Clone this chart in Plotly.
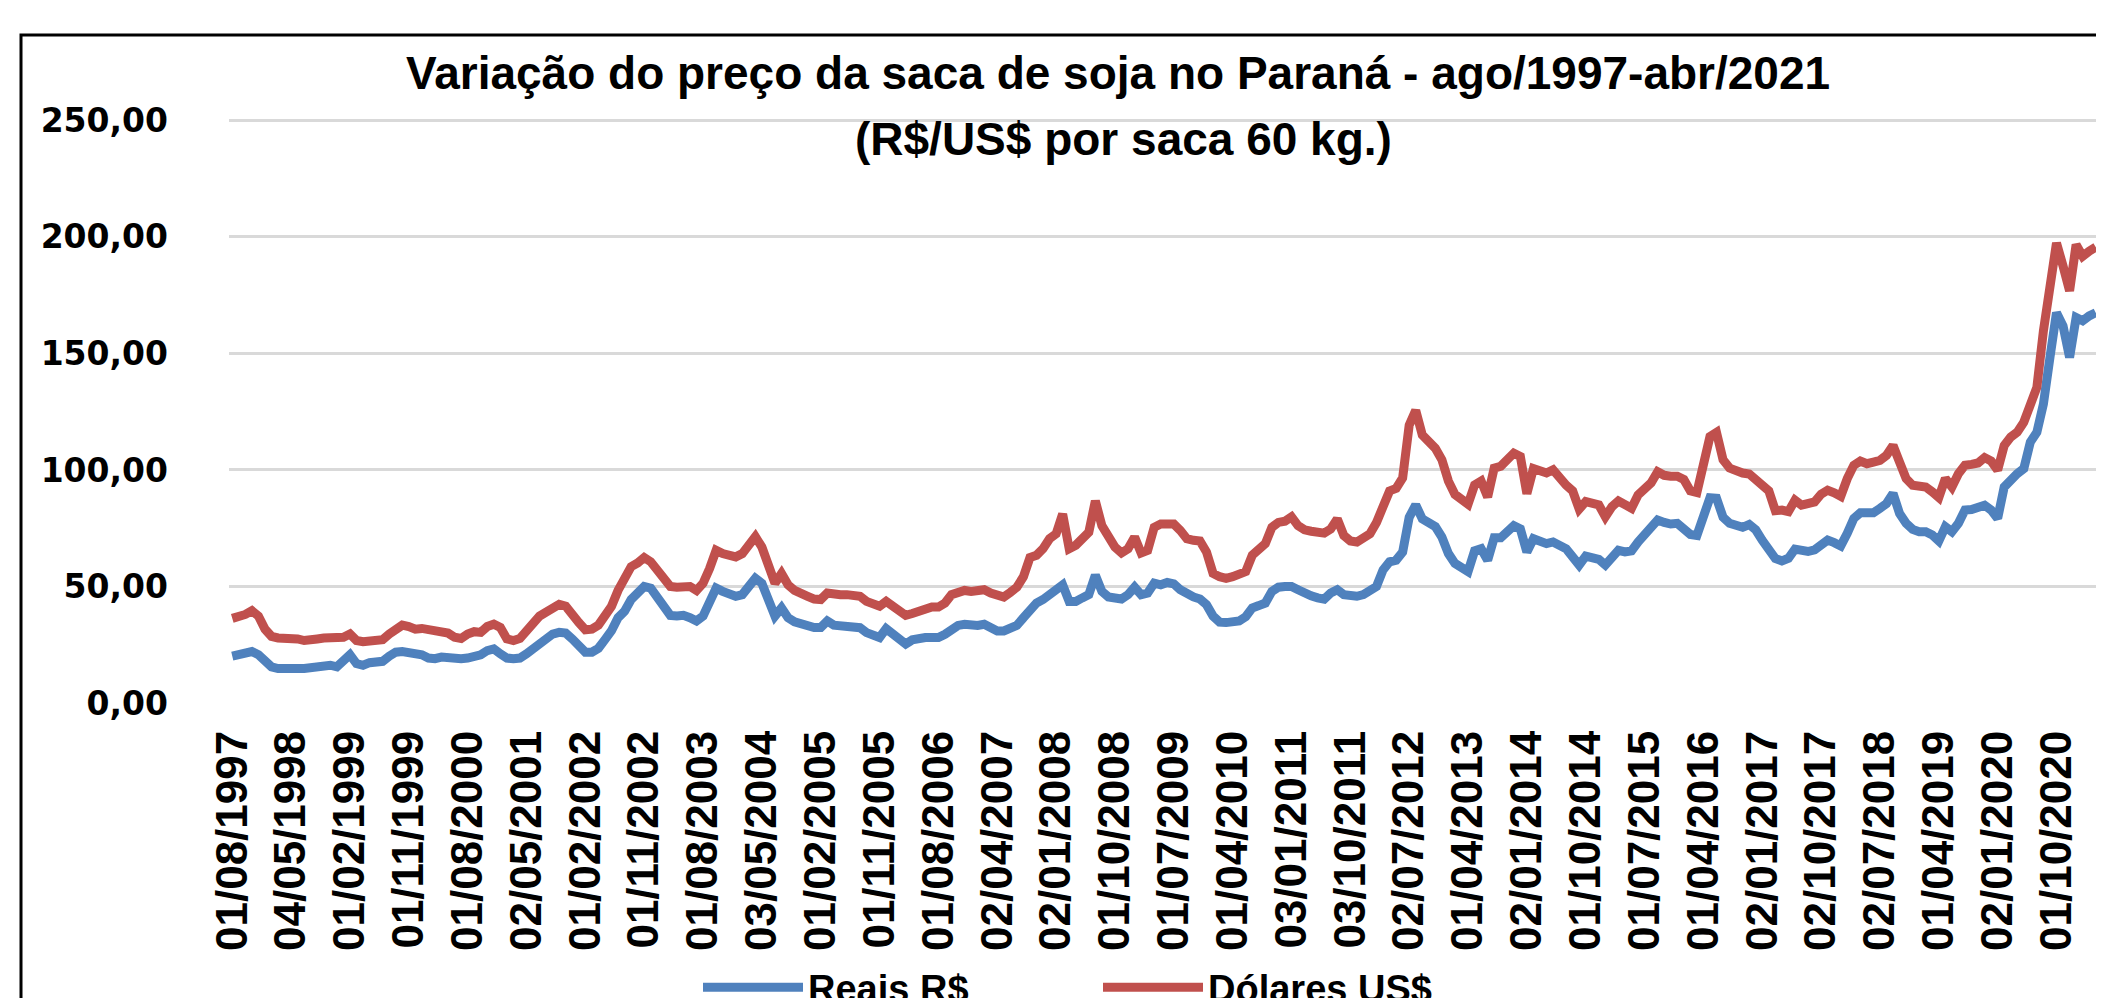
import plotly.graph_objects as go

# ---------------- data ----------------
TICK_LABELS = [
    "01/08/1997", "04/05/1998", "01/02/1999", "01/11/1999", "01/08/2000", "02/05/2001",
    "01/02/2002", "01/11/2002", "01/08/2003", "03/05/2004", "01/02/2005", "01/11/2005",
    "01/08/2006", "02/04/2007", "02/01/2008", "01/10/2008", "01/07/2009", "01/04/2010",
    "03/01/2011", "03/10/2011", "02/07/2012", "01/04/2013", "02/01/2014", "01/10/2014",
    "01/07/2015", "01/04/2016", "02/01/2017", "02/10/2017", "02/07/2018", "01/04/2019",
    "02/01/2020", "01/10/2020",
]

# Dólares US$ (red, upper line)
DOLARES = [
    36.3, 37.0, 38.0, 39.6, 37.3, 31.7, 28.6, 27.9, 27.9, 27.9,
    27.5, 26.8, 26.8, 27.5, 27.9, 27.9, 27.5, 28.2, 29.6, 26.8,
    26.3, 26.3, 26.3, 27.2, 29.6, 32.0, 33.4, 32.8, 31.7, 32.0,
    31.4, 30.3, 30.6, 30.0, 28.2, 27.7, 29.6, 30.6, 30.3, 32.8,
    33.8, 32.4, 27.5, 26.8, 27.7, 31.0, 33.8, 37.3, 39.0, 40.8,
    42.3, 41.5, 37.3, 34.5, 31.4, 31.7, 33.4, 37.3, 41.5, 48.3,
    52.8, 58.5, 60.1, 62.4, 60.6, 57.3, 54.2, 50.0, 49.7, 50.3,
    50.0, 48.3, 51.4, 57.7, 65.5, 64.1, 63.4, 62.7, 64.1, 68.6,
    71.4, 66.9, 59.2, 51.4, 55.6, 50.7, 48.3, 46.5, 45.8, 44.6,
    44.4, 47.2, 46.5, 46.5, 46.5, 46.5, 45.8, 43.6, 42.2, 41.5,
    43.6, 41.8, 39.4, 37.6, 38.4, 39.4, 40.8, 41.2, 41.2, 42.9,
    46.5, 47.9, 48.3, 47.9, 47.9, 48.6, 47.2, 46.0, 45.5, 47.5,
    49.7, 54.2, 62.4, 63.4, 66.2, 70.5, 72.6, 81.1, 66.2, 67.7,
    71.2, 73.3, 86.7, 76.1, 71.5, 66.9, 64.4, 66.2, 71.2, 64.4,
    65.5, 75.4, 76.8, 77.1, 76.8, 74.0, 70.5, 69.8, 69.5, 64.8,
    55.6, 54.2, 53.5, 54.2, 54.9, 56.4, 63.4, 66.2, 68.4, 75.4,
    77.5, 78.0, 79.9, 76.1, 74.3, 73.7, 73.3, 72.9, 74.7, 79.0,
    71.9, 69.5, 69.1, 70.5, 72.6, 77.5, 83.9, 91.0, 92.1, 96.6,
    119.2, 125.6, 115.0, 112.4, 109.3, 104.4, 95.2, 89.5, 87.0, 85.3,
    93.5, 95.2, 88.4, 100.8, 101.6, 105.1, 107.2, 105.8, 89.8, 100.6,
    99.2, 98.7, 100.1, 96.3, 93.5, 91.0, 83.2, 86.4, 86.0, 85.0,
    79.9, 84.2, 86.7, 84.6, 83.6, 89.3, 91.7, 94.5, 99.2, 97.7,
    97.3, 97.3, 95.9, 91.0, 90.3, 103.7, 114.3, 116.1, 104.4, 100.8,
    99.2, 98.7, 98.3, 95.9, 93.1, 91.0, 82.5, 82.8, 82.1, 87.0,
    84.9, 85.3, 86.3, 89.6, 91.3, 90.2, 88.7, 96.3, 102.0, 103.8,
    102.7, 103.4, 104.1, 106.3, 110.5, 103.4, 96.3, 93.4, 92.7, 92.7,
    90.6, 88.2, 96.3, 92.7, 98.4, 102.0, 102.4, 103.0, 105.3, 103.8,
    99.9, 110.5, 114.1, 116.2, 120.5, 128.3, 135.5, 159.7, 182.5, 197.4,
    187.5, 176.8, 196.7, 191.7, 193.9, 195.6,
]

# Reais R$ (blue, lower line)
REAIS = [
    20.1, 20.7, 21.1, 22.1, 20.7, 17.9, 15.5, 14.8, 15.1, 14.8,
    14.8, 14.8, 15.1, 16.2, 16.2, 16.2, 15.5, 17.6, 20.7, 16.9,
    16.2, 17.3, 17.6, 17.9, 20.1, 21.8, 22.1, 21.8, 21.1, 20.7,
    19.3, 19.0, 19.7, 19.3, 19.0, 19.0, 19.3, 19.7, 20.7, 22.5,
    23.2, 21.1, 19.3, 19.0, 19.3, 21.1, 23.2, 26.1, 28.6, 29.6,
    30.3, 30.0, 27.5, 24.6, 21.8, 21.8, 23.5, 27.2, 31.0, 36.6,
    39.4, 44.4, 47.9, 50.0, 49.3, 45.1, 41.5, 37.6, 37.3, 37.6,
    36.6, 35.2, 37.3, 43.7, 49.3, 47.9, 47.2, 45.8, 46.5, 50.0,
    53.5, 51.4, 44.4, 37.3, 40.8, 36.6, 34.8, 33.8, 33.1, 32.4,
    32.4, 35.2, 33.4, 33.1, 33.1, 33.1, 32.3, 30.2, 28.8, 28.1,
    31.9, 29.5, 27.1, 25.3, 27.1, 28.1, 28.1, 28.1, 28.1, 29.5,
    31.9, 33.3, 33.8, 33.3, 33.3, 33.8, 32.3, 30.9, 30.9, 31.9,
    33.3, 36.6, 40.4, 42.9, 44.4, 46.5, 48.3, 50.7, 43.6, 43.6,
    45.1, 46.5, 54.9, 47.9, 45.5, 45.1, 44.6, 46.5, 49.7, 46.5,
    47.2, 51.4, 50.7, 51.7, 51.1, 48.6, 46.5, 45.5, 44.6, 42.2,
    37.3, 34.7, 34.5, 34.7, 35.2, 37.0, 40.8, 41.8, 42.9, 47.9,
    49.7, 50.0, 50.0, 48.6, 46.9, 46.0, 45.1, 44.6, 47.2, 48.6,
    46.5, 45.8, 45.8, 46.5, 47.9, 50.0, 57.1, 60.6, 61.3, 64.8,
    79.7, 85.0, 79.0, 77.1, 75.7, 71.2, 64.1, 59.9, 58.2, 56.4,
    65.3, 66.2, 61.3, 70.9, 70.9, 74.0, 76.1, 74.7, 64.8, 70.5,
    69.1, 68.4, 69.1, 67.7, 66.2, 62.7, 59.2, 63.0, 62.4, 61.6,
    59.2, 62.7, 65.5, 64.8, 65.3, 69.1, 71.9, 75.4, 78.5, 77.5,
    76.8, 77.1, 74.7, 72.3, 71.9, 81.1, 88.1, 87.9, 79.7, 77.1,
    76.1, 75.4, 76.6, 74.3, 69.8, 66.2, 62.0, 61.0, 62.1, 66.0,
    65.0, 65.0, 65.7, 67.8, 69.9, 68.8, 67.4, 72.8, 79.2, 81.6,
    81.6, 81.6, 83.5, 85.6, 89.9, 81.3, 77.1, 74.5, 73.5, 73.5,
    72.1, 69.5, 75.6, 73.5, 77.1, 82.8, 83.0, 83.5, 84.9, 82.8,
    79.2, 92.7, 96.3, 98.4, 100.6, 112.0, 116.2, 128.3, 148.3, 167.5,
    161.8, 148.3, 165.4, 164.0, 166.1, 167.5,
]

# Category list: one entry per month ago/1997..abr/2021, plus an extra
# reading in dez/2006; labelled months use the exact labels above.
EXTRA_ENTRY = ("15/12/2006", 2006, 12)
categories = []
y, m = 1997, 8
while (y, m) <= (2021, 4):
    categories.append(f"01/{m:02d}/{y}")
    if (y, m) == (EXTRA_ENTRY[1], EXTRA_ENTRY[2]):
        categories.append(EXTRA_ENTRY[0])
    m += 1
    if m > 12:
        m, y = 1, y + 1
for k, lab in enumerate(TICK_LABELS):
    categories[k * 9] = lab

# ---------------- figure ----------------
W, H = 2104, 998
L, R, T, B = 221, 13, 111, 303
PW, PH = W - L - R, H - T - B
YMAX = 250.6  # a hair above 250 so the top gridline is drawn


def px_x(px):
    return (px - L) / PW


def px_y(py):
    return (H - B - py) / PH


BLUE = "#4F81BD"
RED = "#C0504D"

fig = go.Figure()
fig.add_trace(go.Scatter(x=categories, y=REAIS, mode="lines", name="Reais R$",
                         line=dict(color=BLUE, width=9)))
fig.add_trace(go.Scatter(x=categories, y=DOLARES, mode="lines", name="Dólares US$",
                         line=dict(color=RED, width=9)))

fig.update_layout(
    width=W, height=H,
    margin=dict(l=L, r=R, t=T, b=B, autoexpand=False),
    paper_bgcolor="white", plot_bgcolor="white",
    separators=",.",
    showlegend=True,
    legend=dict(orientation="h", x=px_x(690), y=px_y(948), xanchor="left", yanchor="top",
                font=dict(family="Liberation Sans", size=38, color="black", weight="bold"),
                itemwidth=100, entrywidth=285, entrywidthmode="pixels",
                bgcolor="rgba(0,0,0,0)", tracegroupgap=0),
    xaxis=dict(type="category", range=[-0.5, len(categories) - 0.5],
               tickmode="array", tickvals=TICK_LABELS, ticktext=TICK_LABELS,
               tickangle=-90, showgrid=False, zeroline=False, showline=False,
               ticks="", ticklabelstandoff=18,
               tickfont=dict(family="Liberation Sans", size=44, color="black", weight="bold")),
    yaxis=dict(range=[0, YMAX], dtick=50, tick0=0, tickformat=".2f",
               showgrid=True, gridcolor="#D9D9D9", gridwidth=3,
               zeroline=False, showline=False, ticks="", ticklabelstandoff=60,
               tickfont=dict(family="DejaVu Sans", size=33, color="black", weight="bold")),
    annotations=[
        dict(text="Variação do preço da saca de soja no Paraná - ago/1997-abr/2021",
             xref="paper", yref="paper", x=px_x(1110), y=px_y(65),
             xanchor="center", yanchor="middle", showarrow=False,
             font=dict(family="Liberation Sans", size=46, color="black", weight="bold")),
        dict(text="(R$/US$ por saca 60 kg.)",
             xref="paper", yref="paper", x=px_x(1115), y=px_y(131),
             xanchor="center", yanchor="middle", showarrow=False,
             font=dict(family="Liberation Sans", size=46, color="black", weight="bold")),
    ],
    shapes=[
        dict(type="rect", xref="paper", yref="paper",
             x0=px_x(13), y0=px_y(1200), x1=px_x(2300), y1=px_y(27),
             line=dict(color="black", width=3), fillcolor="rgba(0,0,0,0)", layer="below"),
    ],
)

fig.write_html("out.html")
